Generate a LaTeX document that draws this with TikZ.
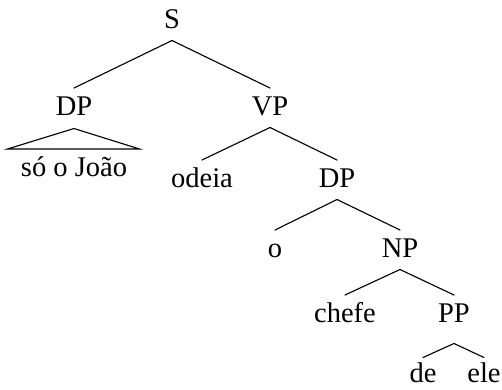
\documentclass[tikz,border=0pt]{standalone}
\usepackage{fontspec}
\setmainfont{Liberation Serif}
\begin{document}
\begin{tikzpicture}[x=0.4pt,y=-0.4pt,
  lab/.style={anchor=base,inner sep=0pt,text height=10.6pt,text depth=4.8pt,font=\fontsize{11.4}{13}\selectfont},
  edge/.style={line width=0.45pt,line cap=round}]
\useasboundingbox (0,0) rectangle (502,389);
\node[lab] (S) at (172,28) {S};
\node[lab] (DPa) at (74,115) {DP};
\node[lab] (VP) at (270,115) {VP};
\node[lab] (leaf) at (74,176) {só o João};
\node[lab] (odeia) at (202,187) {odeia};
\node[lab] (DPb) at (337,187) {DP};
\node[lab] (o) at (275,257) {o};
\node[lab] (NP) at (400,257) {NP};
\node[lab] (chefe) at (345,322) {chefe};
\node[lab] (PP) at (454,322) {PP};
\node[lab] (de) at (423,382) {de};
\node[lab] (ele) at (484,382) {ele};
\draw[edge] ([yshift=-0.4pt]DPa.south) -- ([xshift=-5.2pt]leaf.north west) -- ([xshift=4.8pt]leaf.north east) -- cycle;
\draw[edge] (S.south) -- (DPa.north);
\draw[edge] (S.south) -- (VP.north);
\draw[edge] (VP.south) -- (odeia.north);
\draw[edge] (VP.south) -- (DPb.north);
\draw[edge] (DPb.south) -- (o.north);
\draw[edge] (DPb.south) -- (NP.north);
\draw[edge] (NP.south) -- (chefe.north);
\draw[edge] (NP.south) -- (PP.north);
\draw[edge] ([yshift=-3.6pt]PP.south) -- ([yshift=-1pt]de.north);
\draw[edge] ([yshift=-3.6pt]PP.south) -- ([yshift=-1pt]ele.north);
\end{tikzpicture}
\end{document}
